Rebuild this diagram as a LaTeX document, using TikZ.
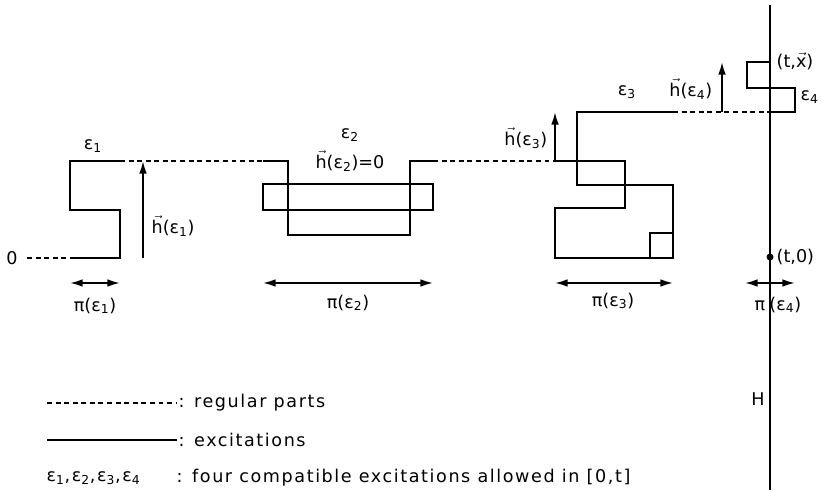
\documentclass[tikz,border=0pt]{standalone}
\usepackage{fontspec}
\setmainfont{DejaVu Sans}
\usepackage{amsmath}
\usepackage{tikz}
\usetikzlibrary{arrows.meta}
\tikzstyle{excit}=[draw, line width=1.7pt, line join=miter]
\tikzstyle{regular}=[draw, line width=1.3pt, dash pattern=on 3.5pt off 2.6pt]
\tikzstyle{vec}=[draw, line width=1.3pt, -{Latex[length=9pt,width=5.5pt]}]
\tikzstyle{proj}=[draw, line width=1.3pt, {Latex[length=9pt,width=5.5pt]}-{Latex[length=9pt,width=5.5pt]}]
\tikzstyle{lbl}=[inner sep=1pt, font=\fontsize{12.5}{15}\selectfont]
\tikzstyle{legend}=[lbl, anchor=west, font=\fontsize{12.5}{15}\selectfont\addfontfeature{LetterSpace=9}]
\newcommand{\exc}[1]{ε\textsubscript{#1}}
\newcommand{\hvec}{$\vec{\mathrm{h}}$}

\begin{document}
\begin{tikzpicture}[x=0.025cm, y=-0.025cm]
		\useasboundingbox (0,0) rectangle (822,492);
		% first excitation, starting from the origin
		\node[lbl] (zero) at (12,258) {0};
		\coordinate (start) at (27,258);
		\draw[regular] (start) -- (70,258);
		\draw[excit] (70,258) -- (120,258) -- (120,210) -- (70,210) -- (70,161) -- (120,161);
		\draw[regular] (120,161) -- (263,161);
		\node[lbl] (e1) at (93,146) {\exc{1}};
		\coordinate (h1a) at (143,258);
		\coordinate (h1b) at (143,161);
		\draw[vec] (h1a) -- (h1b);
		\node[lbl, anchor=west] (h1) at (150,226) {\hvec(\exc{1})};
		\coordinate (p1a) at (70,283);
		\coordinate (p1b) at (120,283);
		\draw[proj] (p1a) -- (p1b);
		\node[lbl] (pi1) at (95,306) {π(\exc{1})};
		% second excitation
		\draw[excit] (263,161) -- (288,161) -- (288,235) -- (410,235) -- (410,161) -- (433,161);
		\draw[excit] (263,184) rectangle (433,210);
		\draw[regular] (433,161) -- (555,161);
		\node[lbl] (e2) at (350,135) {\exc{2}};
		\node[lbl] (h2) at (350,161) {\hvec(\exc{2})=0};
		\coordinate (p2a) at (263,283);
		\coordinate (p2b) at (433,283);
		\draw[proj] (p2a) -- (p2b);
		\node[lbl] (pi2) at (348,303) {π(\exc{2})};
		% third excitation
		\draw[excit] (555,161) -- (625,161) -- (625,208) -- (555,208) -- (555,258) -- (673,258) -- (673,185) -- (577,185) -- (577,112) -- (673,112);
		\draw[excit] (650,233) rectangle (673,258);
		\draw[regular] (673,112) -- (770,112);
		\node[lbl] (e3) at (627,92) {\exc{3}};
		\coordinate (h3a) at (555,161);
		\coordinate (h3b) at (555,112);
		\draw[vec] (h3a) -- (h3b);
		\node[lbl, anchor=east] (h3) at (549,138) {\hvec(\exc{3})};
		\coordinate (p3a) at (555,283);
		\coordinate (p3b) at (673,283);
		\draw[proj] (p3a) -- (p3b);
		\node[lbl] (pi3) at (613,301) {π(\exc{3})};
		% fourth excitation, ending at (t,x)
		\draw[excit] (770,112) -- (795,112) -- (795,88) -- (747,88) -- (747,62) -- (770,62);
		\node[lbl, anchor=west] (e4) at (799,97) {\exc{4}};
		\coordinate (h4a) at (722,112);
		\coordinate (h4b) at (722,62);
		\draw[vec] (h4a) -- (h4b);
		\node[lbl, anchor=east] (h4) at (714,89) {\hvec(\exc{4})};
		\node[lbl, anchor=west] (tx) at (775,61) {(t,$\vec{\mathrm{x}}$)};
		% the hyperplane H
		\coordinate (Htop) at (770,5);
		\coordinate (Hbot) at (770,490);
		\draw[line width=1.2pt] (Htop) -- (Hbot);
		\node[lbl] (H) at (758,399) {H};
		\fill (770,257) circle (3.5);
		\node[lbl, anchor=west] (t0) at (775,257) {(t,0)};
		\coordinate (p4a) at (745,283);
		\coordinate (p4b) at (795,283);
		\draw[proj] (p4a) -- (p4b);
		\node[lbl, anchor=west] (pi4) at (753,305) {π\hspace{3pt}(\exc{4})};
		% legend
		\draw[regular] (47,403) -- (177,403);
		\node[legend] (lg1) at (177,403) {: regular parts};
		\draw[line width=1.3pt] (47,440) -- (177,440);
		\node[legend] (lg2) at (177,440) {: excitations};
		\node[legend] (lg3a) at (45,478) {\exc{1},\exc{2},\exc{3},\exc{4}};
		\node[legend] (lg3b) at (175,478) {: four compatible excitations allowed in [0,t]};
	\end{tikzpicture}
\end{document}
